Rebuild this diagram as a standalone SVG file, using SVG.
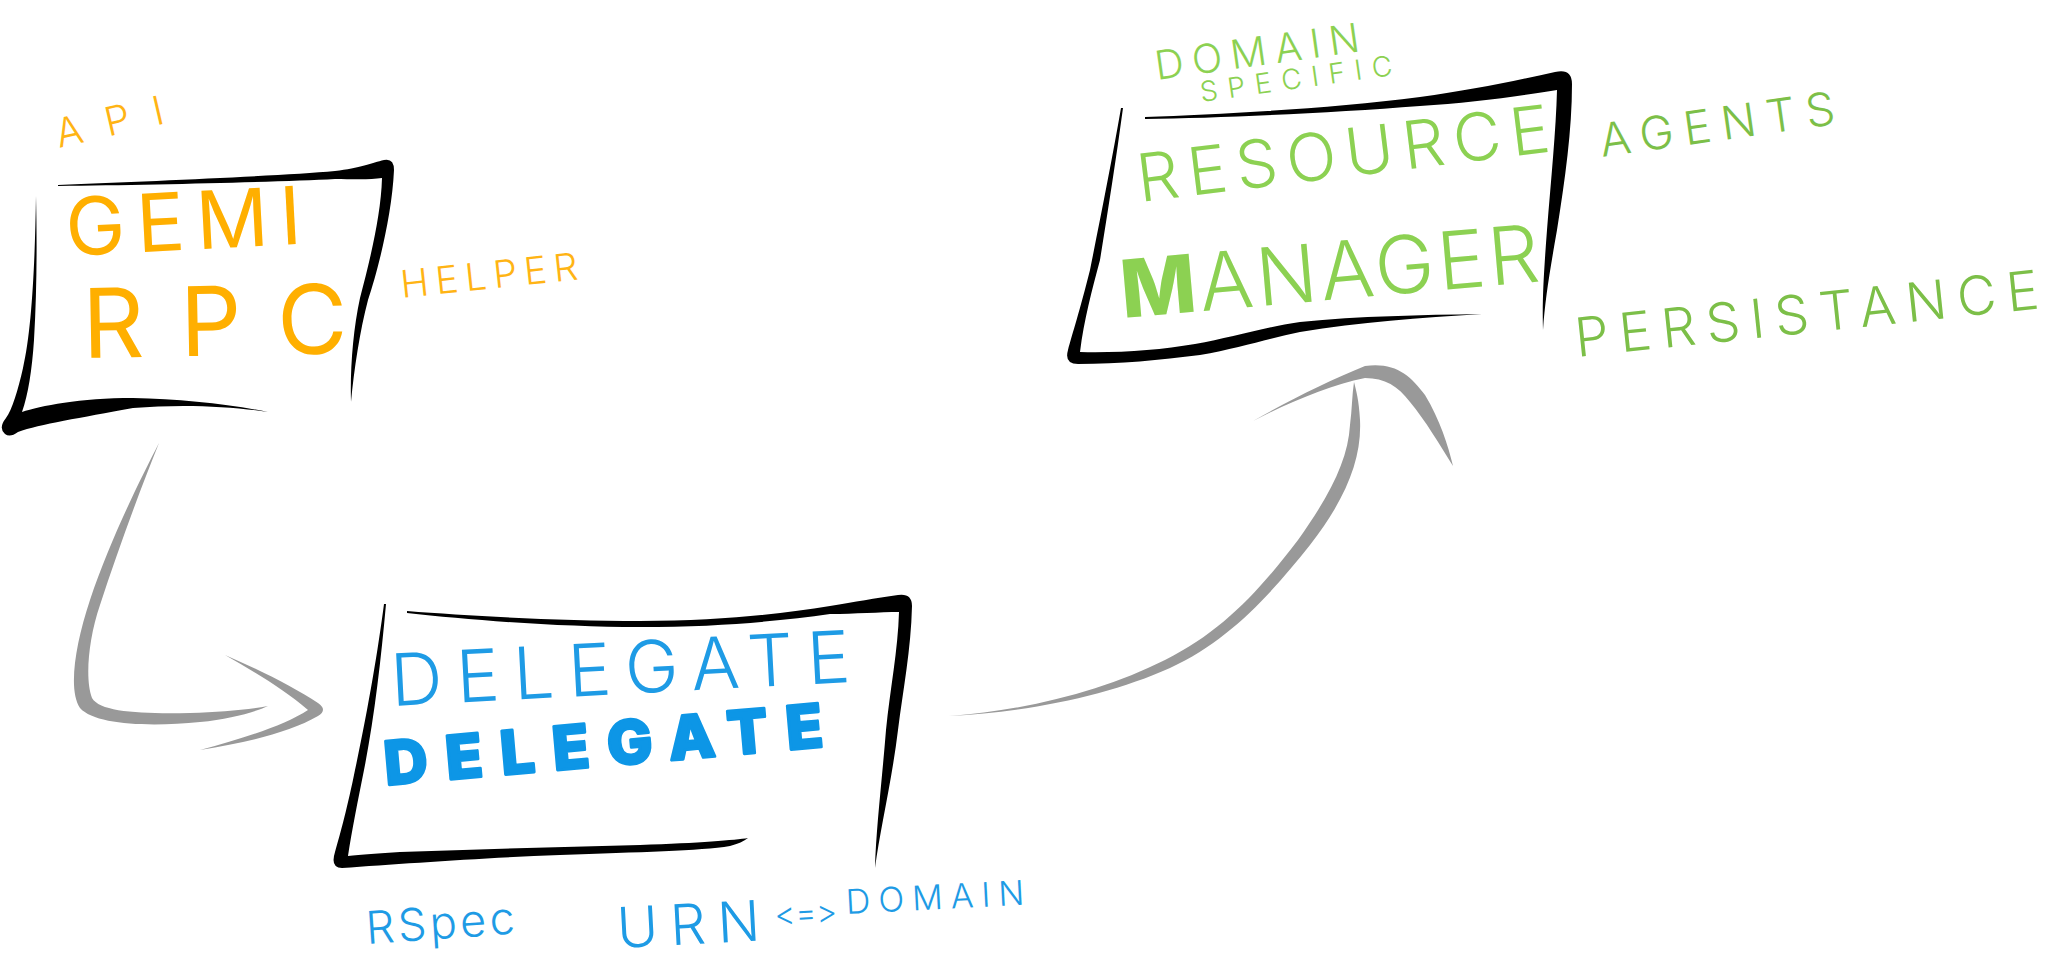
<svg xmlns="http://www.w3.org/2000/svg" width="2048" height="960" viewBox="0 0 2048 960">
<style>
  .ink { fill: #000000; }
  .arrow { fill: #999999; }
  .t { font-family: Inter, "Open Sans", "Liberation Sans", sans-serif; font-variant-ligatures: none; font-feature-settings: "calt" 0, "liga" 0; }
  .thin { font-weight: 300; }
  .orange { fill: #FFAF00; }
  .orange-lt { fill: #FFB414; }
  .blue { fill: #1E9BE5; }
  .blue-bold { fill: #0D96E6; stroke: #0D96E6; stroke-width: 3; stroke-linejoin: round; }
  .green { fill: #8CD152; }
  .green-dk { fill: #7CBF48; }
</style>
<rect width="2048" height="960" fill="#ffffff"/>

<g id="connectors">
  <g id="edge-gemi-delegate">
    <path class="arrow" d="M159,443 C140,480 110,540 90,600 C75,645 68,690 80,708 C95,725 150,727 200,722 C230,719 255,712 268,706 C245,710 220,712 190,713 C140,714 100,712 92,698 C85,680 88,640 100,605 C118,550 140,490 159,443 Z"/>
    <path class="arrow" d="M225,655 C260,670 295,688 318,703 Q328,710 318,716 C290,732 250,742 200,750 C245,738 285,725 308,710 C285,690 255,672 225,655 Z"/>
  </g>
  <g id="edge-delegate-resource">
    <path class="arrow" d="M949,716 C1030,712 1110,695 1170,668 C1230,640 1270,595 1310,545 C1345,500 1362,460 1360,420 C1359,400 1356,390 1354,382 C1352,395 1352,410 1350,425 C1348,460 1330,495 1298,540 C1260,590 1222,632 1165,660 C1105,690 1030,710 949,716 Z"/>
    <path class="arrow" d="M1253,421 C1290,400 1330,380 1365,366 C1395,362 1410,375 1425,395 C1440,420 1448,445 1453,466 C1440,445 1425,420 1410,402 C1398,386 1385,378 1365,378 C1330,385 1290,402 1253,421 Z"/>
  </g>
</g>

<g id="node-gemi-rpc">
  <path class="ink" d="M58,185 C150,181 280,176 335,171 C360,168 372,163 384,160 Q394,158 394,170 C392,215 378,270 368,300 C360,330 354,370 351,402 C350,370 353,330 360,298 C370,260 381,215 382,178 C370,180 350,179 335,179 C280,182 150,185 58,186 Z"/>
  <path class="ink" d="M36,196 C35,260 32,330 23,368 C18,390 12,410 6,418 Q-2,428 5,434 Q10,438 18,432 C40,424 80,418 133,408 C180,404 230,406 268,412 C230,404 180,399 133,398 C80,398 40,406 22,412 C28,395 32,370 34,340 C37,290 37,240 36,196 Z"/>
  <text class="t thin orange-lt" x="59" y="148" font-size="40" transform="rotate(-13 59 148)" textLength="110" lengthAdjust="spacing">API</text>
  <text class="t orange" x="67" y="256" font-size="80" font-weight="400" transform="rotate(-3 67 256)" textLength="236" lengthAdjust="spacing">GEMI</text>
  <text class="t orange" x="83" y="358" font-size="96" font-weight="400" transform="rotate(-1 83 358)" textLength="265" lengthAdjust="spacing">RPC</text>
  <text class="t thin orange-lt" x="402" y="298" font-size="38" transform="rotate(-6 402 298)" textLength="178" lengthAdjust="spacing">HELPER</text>
</g>

<g id="node-delegate">
  <path class="ink" d="M407,611 C470,616 560,621 640,621 C720,621 780,614 830,606 C855,602 875,598 898,595 Q912,593 912,606 C911,650 903,690 898,730 C892,780 880,830 875,868 C876,830 882,780 886,730 C890,690 898,650 899,612 C880,612 855,614 830,614 C780,621 720,627 640,627 C560,627 470,620 407,613 Z"/>
  <path class="ink" d="M384,604 C378,650 368,710 355,770 C348,805 340,835 335,852 Q330,868 342,868 C400,864 480,858 560,855 C640,852 700,851 730,846 C738,844 744,841 748,838 C735,840 700,843 640,845 C560,847 480,849 400,852 C380,853 360,855 348,856 C352,830 358,800 364,770 C374,720 381,660 386,604 Z"/>
  <text class="t thin blue" x="392" y="706" font-size="72" transform="rotate(-3 392 706)" textLength="460" lengthAdjust="spacing">DELEGATE</text>
  <text class="t blue-bold" x="386" y="785" font-size="60" font-weight="800" transform="rotate(-5 386 785)" textLength="440" lengthAdjust="spacing">DELEGATE</text>
  <text class="t thin blue" x="367" y="944" font-size="45" transform="rotate(-4 367 944)" textLength="149" lengthAdjust="spacing">RSpec</text>
  <text class="t thin blue" x="618" y="948" font-size="56" transform="rotate(-3 618 948)" letter-spacing="12">URN<tspan x="776" y="934" font-size="32" letter-spacing="0">&lt;=&gt;</tspan><tspan x="848" y="926" font-size="34" letter-spacing="8">DOMAIN</tspan></text>
</g>

<g id="node-resource-manager">
  <path class="ink" d="M1145,117 C1220,114 1330,109 1420,97 C1470,90 1510,82 1555,72 Q1572,68 1572,84 C1572,130 1565,180 1557,230 C1550,270 1545,300 1543,330 C1542,300 1544,270 1547,230 C1551,180 1556,130 1557,90 C1520,96 1470,103 1420,106 C1330,113 1220,118 1145,119 Z"/>
  <path class="ink" d="M1121,108 C1112,160 1100,220 1090,270 C1080,310 1072,335 1068,350 Q1064,364 1078,364 C1120,364 1160,360 1200,355 C1240,348 1270,338 1300,332 C1360,322 1420,318 1482,314 C1420,315 1360,316 1300,322 C1260,328 1230,338 1195,344 C1160,350 1120,353 1080,352 C1084,320 1092,290 1100,260 C1108,210 1116,160 1123,108 Z"/>
  <text class="t thin green" x="1157" y="80" font-size="40" transform="rotate(-8 1157 80)"><tspan textLength="206" lengthAdjust="spacing">DOMAIN</tspan><tspan x="1198" y="108" font-size="28" letter-spacing="10">SPECIFIC</tspan></text>
  <text class="t thin green" x="1140" y="202" font-size="66" transform="rotate(-7 1140 202)" textLength="415" lengthAdjust="spacing">RESOURCE</text>
  <text class="t thin green" x="1123" y="318" font-size="80" transform="rotate(-5 1123 318)" textLength="420" lengthAdjust="spacing"><tspan font-weight="800">M</tspan>ANAGER</text>
  <text class="t thin green-dk" x="1602" y="157" font-size="46" transform="rotate(-8 1602 157)" textLength="237" lengthAdjust="spacing">AGENTS</text>
  <text class="t thin green-dk" x="1577" y="357" font-size="54" transform="rotate(-6 1577 357)" textLength="466" lengthAdjust="spacing">PERSISTANCE</text>
</g>
</svg>
